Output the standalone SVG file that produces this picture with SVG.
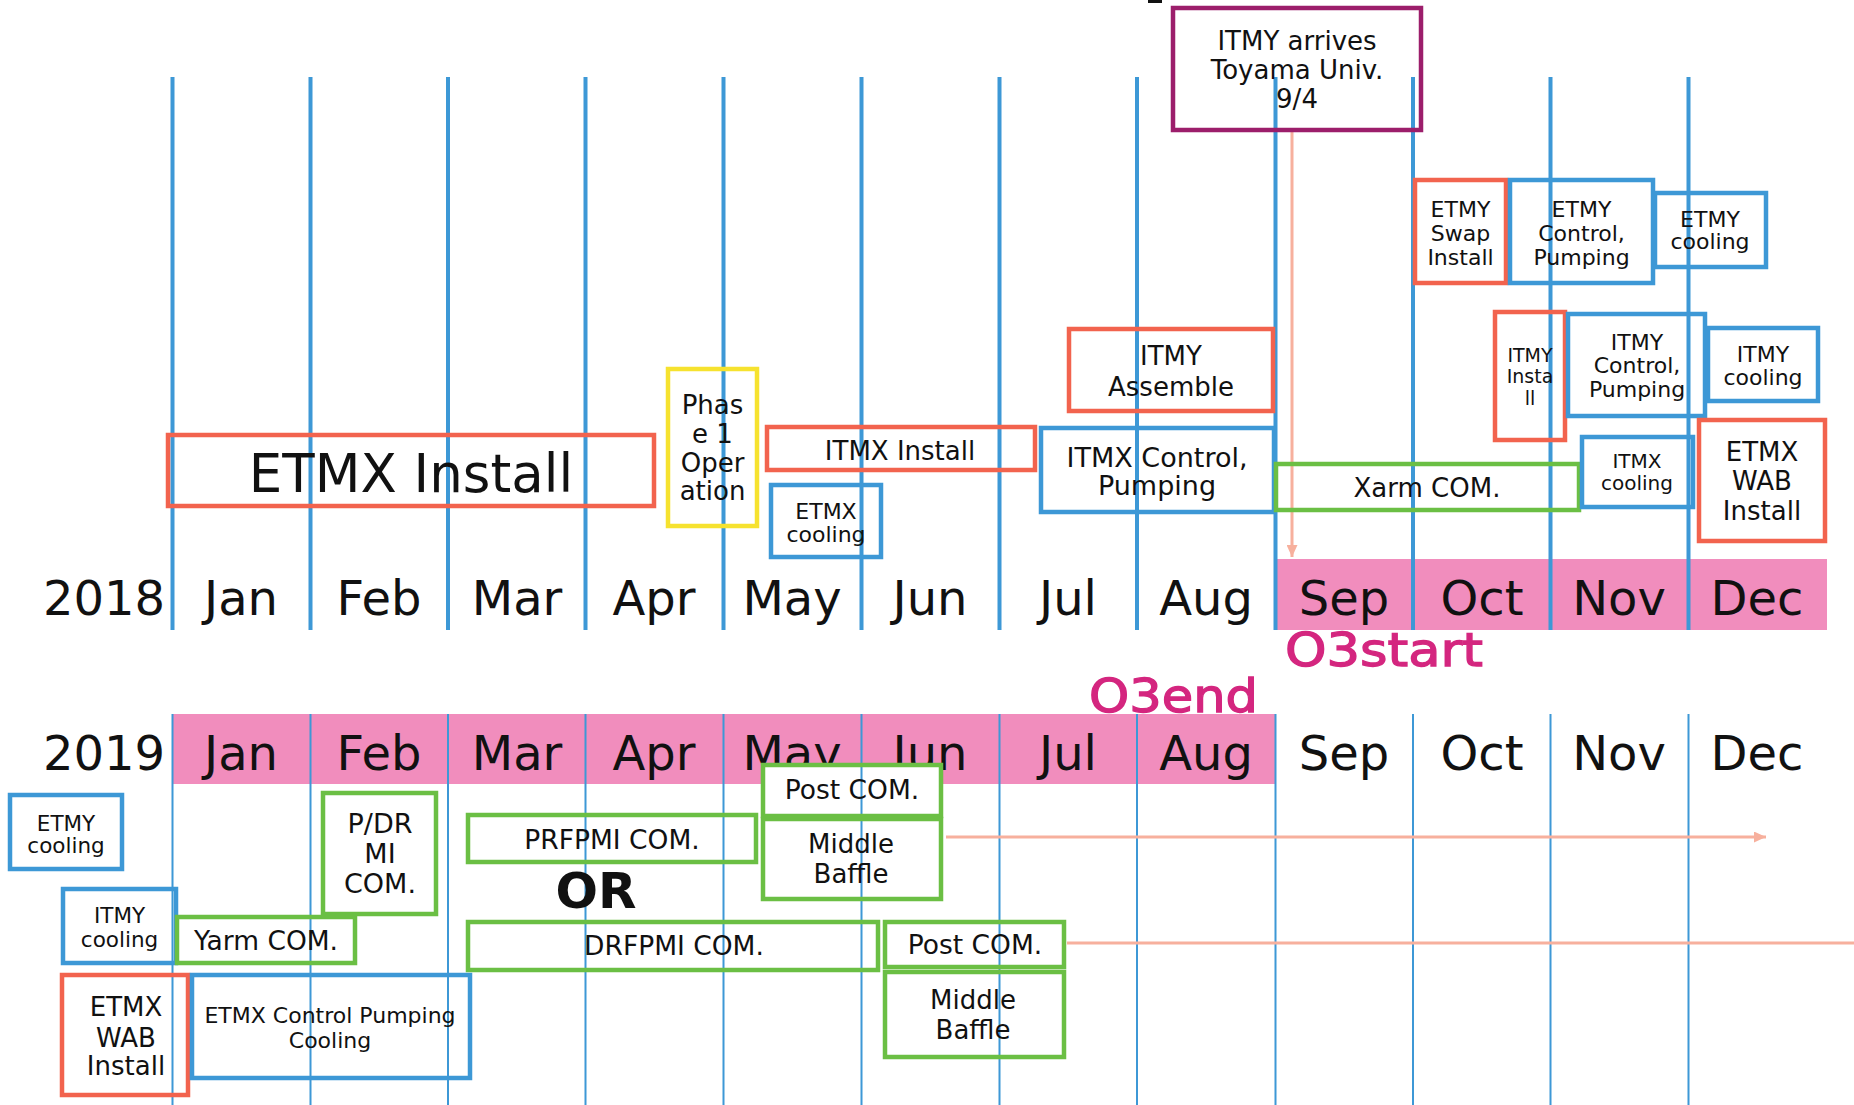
<svg xmlns="http://www.w3.org/2000/svg" width="1854" height="1105" viewBox="0 0 1854 1105">
<style>
text{font-family:"DejaVu Sans","Liberation Sans",sans-serif;fill:#111;text-anchor:middle}
.mon{font-size:48px}
.box{fill:none;stroke-width:4.5}
.red{stroke:#f2634e}
.blue{stroke:#3d98d6}
.green{stroke:#6bbf44}
.yellow{stroke:#f6e22f}
.purple{stroke:#9c1e6b}
.gtop{stroke:#3d98d6;stroke-width:4}
.gbot{stroke:#3d98d6;stroke-width:2}
.o3{font-size:47px;fill:#d4267f;stroke:#d4267f;stroke-width:1.3;text-anchor:start}
.conn{stroke:#f7b09d;stroke-width:3;fill:none}
</style>
<defs>
<marker id="ah" markerUnits="userSpaceOnUse" markerWidth="13" markerHeight="11" refX="12" refY="5.5" orient="auto">
<path d="M0,0 L12,5.5 L0,11 z" fill="#f7b09d"/>
</marker>
</defs>
<rect width="1854" height="1105" fill="#fff"/>
<rect x="1148" y="0" width="14" height="3" fill="#111"/>

<g id="bands">
<rect x="1276" y="559" width="551" height="71" fill="#f18dbd"/>
<rect x="172" y="714" width="1104" height="70" fill="#f18dbd"/>
</g>

<g id="labels2018">
<text class="mon" x="104" y="615">2018</text>
<text class="mon" x="241" y="615">Jan</text>
<text class="mon" x="379" y="615">Feb</text>
<text class="mon" x="517" y="615">Mar</text>
<text class="mon" x="654" y="615">Apr</text>
<text class="mon" x="792" y="615">May</text>
<text class="mon" x="930" y="615">Jun</text>
<text class="mon" x="1068" y="615">Jul</text>
<text class="mon" x="1206" y="615">Aug</text>
<text class="mon" x="1344" y="615">Sep</text>
<text class="mon" x="1482" y="615">Oct</text>
<text class="mon" x="1619" y="615">Nov</text>
<text class="mon" x="1757" y="615">Dec</text>
</g>
<g id="labels2019">
<text class="mon" x="104" y="770">2019</text>
<text class="mon" x="241" y="770">Jan</text>
<text class="mon" x="379" y="770">Feb</text>
<text class="mon" x="517" y="770">Mar</text>
<text class="mon" x="654" y="770">Apr</text>
<text class="mon" x="792" y="770">May</text>
<text class="mon" x="930" y="770">Jun</text>
<text class="mon" x="1068" y="770">Jul</text>
<text class="mon" x="1206" y="770">Aug</text>
<text class="mon" x="1344" y="770">Sep</text>
<text class="mon" x="1482" y="770">Oct</text>
<text class="mon" x="1619" y="770">Nov</text>
<text class="mon" x="1757" y="770">Dec</text>
</g>
<rect x="763" y="765" width="178" height="20" fill="#fff"/>

<g id="grid">
<path class="gtop" d="M172.5,77V630 M310.5,77V630 M448,77V630 M585.5,77V630 M723.5,77V630 M861.5,77V630 M999.5,77V630 M1137,77V630 M1275.5,77V630 M1413,77V630 M1550.5,77V630 M1688.5,77V630"/>
<path class="gbot" d="M172.5,714V1105 M310.5,714V1105 M448,714V1105 M585.5,714V1105 M723.5,714V1105 M861.5,714V1105 M999.5,714V1105 M1137,714V1105 M1275.5,714V1105 M1413,714V1105 M1550.5,714V1105 M1688.5,714V1105"/>
</g>

<g id="milestones">
<text class="o3" x="1285" y="666" textLength="198" lengthAdjust="spacingAndGlyphs">O3start</text>
<text class="o3" x="1089" y="712" textLength="169" lengthAdjust="spacingAndGlyphs">O3end</text>
</g>

<g id="connectors">
<line class="conn" x1="1292" y1="131" x2="1292" y2="557" marker-end="url(#ah)"/>
<line class="conn" x1="946" y1="837" x2="1766" y2="837" marker-end="url(#ah)"/>
<line class="conn" x1="1067" y1="943" x2="1854" y2="943"/>
</g>

<g id="etmx-install">
<rect class="box red" x="168" y="435" width="486" height="71"/>
<text x="411" y="492" font-size="53">ETMX Install</text>
</g>
<g id="phase1">
<rect class="box yellow" x="668" y="369" width="89" height="157"/>
<text x="712.5" y="414" font-size="26">Phas</text>
<text x="712.5" y="443" font-size="26">e 1</text>
<text x="712.5" y="472" font-size="26">Oper</text>
<text x="712.5" y="500" font-size="26">ation</text>
</g>
<g id="itmx-install">
<rect class="box red" x="767" y="427" width="268" height="43"/>
<text x="900" y="460" font-size="26">ITMX Install</text>
</g>
<g id="etmx-cooling">
<rect class="box blue" x="771" y="485" width="110" height="72"/>
<text x="826" y="519" font-size="22">ETMX</text>
<text x="826" y="542" font-size="22">cooling</text>
</g>
<g id="itmx-control">
<rect class="box blue" x="1041" y="428" width="233" height="84"/>
<text x="1157" y="467" font-size="27">ITMX Control,</text>
<text x="1157" y="495" font-size="27">Pumping</text>
</g>
<g id="itmy-assemble">
<rect class="box red" x="1069" y="329" width="204" height="82"/>
<text x="1171" y="365" font-size="26">ITMY</text>
<text x="1171" y="396" font-size="26">Assemble</text>
</g>
<g id="itmy-arrives">
<rect class="box purple" x="1173" y="8" width="248" height="122"/>
<text x="1297" y="50" font-size="26">ITMY arrives</text>
<text x="1297" y="79" font-size="26">Toyama Univ.</text>
<text x="1297" y="108" font-size="26">9/4</text>
</g>
<g id="xarm-com">
<rect class="box green" x="1276" y="464" width="303" height="46"/>
<text x="1427" y="497" font-size="26">Xarm COM.</text>
</g>
<g id="etmy-swap">
<rect class="box red" x="1415" y="180" width="91" height="103"/>
<text x="1460.5" y="217" font-size="22">ETMY</text>
<text x="1460.5" y="241" font-size="22">Swap</text>
<text x="1460.5" y="265" font-size="22">Install</text>
</g>
<g id="etmy-control">
<rect class="box blue" x="1510" y="180" width="143" height="103"/>
<text x="1581.5" y="217" font-size="22">ETMY</text>
<text x="1581.5" y="241" font-size="22">Control,</text>
<text x="1581.5" y="265" font-size="22">Pumping</text>
</g>
<g id="etmy-cooling-2018">
<rect class="box blue" x="1655" y="193" width="111" height="74"/>
<text x="1710" y="227" font-size="22">ETMY</text>
<text x="1710" y="249" font-size="22">cooling</text>
</g>
<g id="itmy-install">
<rect class="box red" x="1495" y="312" width="70" height="128"/>
<text x="1530" y="362" font-size="19">ITMY</text>
<text x="1530" y="383" font-size="19">Insta</text>
<text x="1530" y="405" font-size="19">ll</text>
</g>
<g id="itmy-control">
<rect class="box blue" x="1568" y="314" width="137" height="102"/>
<text x="1637" y="350" font-size="22">ITMY</text>
<text x="1637" y="373" font-size="22">Control,</text>
<text x="1637" y="397" font-size="22">Pumping</text>
</g>
<g id="itmy-cooling-2018">
<rect class="box blue" x="1708" y="328" width="110" height="73"/>
<text x="1763" y="362" font-size="22">ITMY</text>
<text x="1763" y="385" font-size="22">cooling</text>
</g>
<g id="itmx-cooling">
<rect class="box blue" x="1582" y="437" width="111" height="70"/>
<text x="1637" y="468" font-size="20">ITMX</text>
<text x="1637" y="490" font-size="20">cooling</text>
</g>
<g id="etmx-wab-2018">
<rect class="box red" x="1699" y="420" width="126" height="121"/>
<text x="1762" y="461" font-size="26">ETMX</text>
<text x="1762" y="490" font-size="26">WAB</text>
<text x="1762" y="520" font-size="26">Install</text>
</g>

<g id="etmy-cooling-2019">
<rect class="box blue" x="10" y="795" width="112" height="74"/>
<text x="66" y="831" font-size="21.5">ETMY</text>
<text x="66" y="853" font-size="21.5">cooling</text>
</g>
<g id="itmy-cooling-2019">
<rect class="box blue" x="63" y="889" width="113" height="74"/>
<text x="119.5" y="923" font-size="21.5">ITMY</text>
<text x="119.5" y="947" font-size="21.5">cooling</text>
</g>
<g id="etmx-wab-2019">
<rect class="box red" x="62" y="975" width="126" height="120"/>
<text x="126" y="1016" font-size="26">ETMX</text>
<text x="126" y="1047" font-size="26">WAB</text>
<text x="126" y="1075" font-size="26">Install</text>
</g>
<g id="yarm-com">
<rect class="box green" x="177" y="917" width="178" height="46"/>
<text x="266" y="950" font-size="26.5">Yarm COM.</text>
</g>
<g id="pdrmi-com">
<rect class="box green" x="323" y="793" width="113" height="121"/>
<text x="380" y="833" font-size="27">P/DR</text>
<text x="380" y="863" font-size="27">MI</text>
<text x="380" y="893" font-size="27">COM.</text>
</g>
<g id="etmx-control-2019">
<rect class="box blue" x="192" y="975" width="278" height="103"/>
<text x="330" y="1023" font-size="22">ETMX Control Pumping</text>
<text x="330" y="1048" font-size="22">Cooling</text>
</g>
<g id="prfpmi-com">
<rect class="box green" x="468" y="815" width="288" height="47"/>
<text x="612" y="849" font-size="26.5">PRFPMI COM.</text>
</g>
<g id="or-label">
<text x="596" y="908" font-size="50" font-weight="bold" font-family="Liberation Sans, sans-serif">OR</text>
</g>
<g id="drfpmi-com">
<rect class="box green" x="468" y="922" width="410" height="48"/>
<text x="674" y="955" font-size="26.5">DRFPMI COM.</text>
</g>
<g id="post-com-1">
<rect class="box green" x="763" y="765" width="178" height="51"/>
<text x="852" y="799" font-size="26.5">Post COM.</text>
</g>
<g id="middle-baffle-1">
<rect class="box green" x="763" y="819" width="178" height="80"/>
<text x="851" y="853" font-size="26">Middle</text>
<text x="851" y="883" font-size="26">Baffle</text>
</g>
<g id="post-com-2">
<rect class="box green" x="885" y="922" width="179" height="45"/>
<text x="975" y="954" font-size="26.5">Post COM.</text>
</g>
<g id="middle-baffle-2">
<rect class="box green" x="885" y="972" width="179" height="85"/>
<text x="973" y="1009" font-size="26">Middle</text>
<text x="973" y="1039" font-size="26">Baffle</text>
</g>
</svg>
